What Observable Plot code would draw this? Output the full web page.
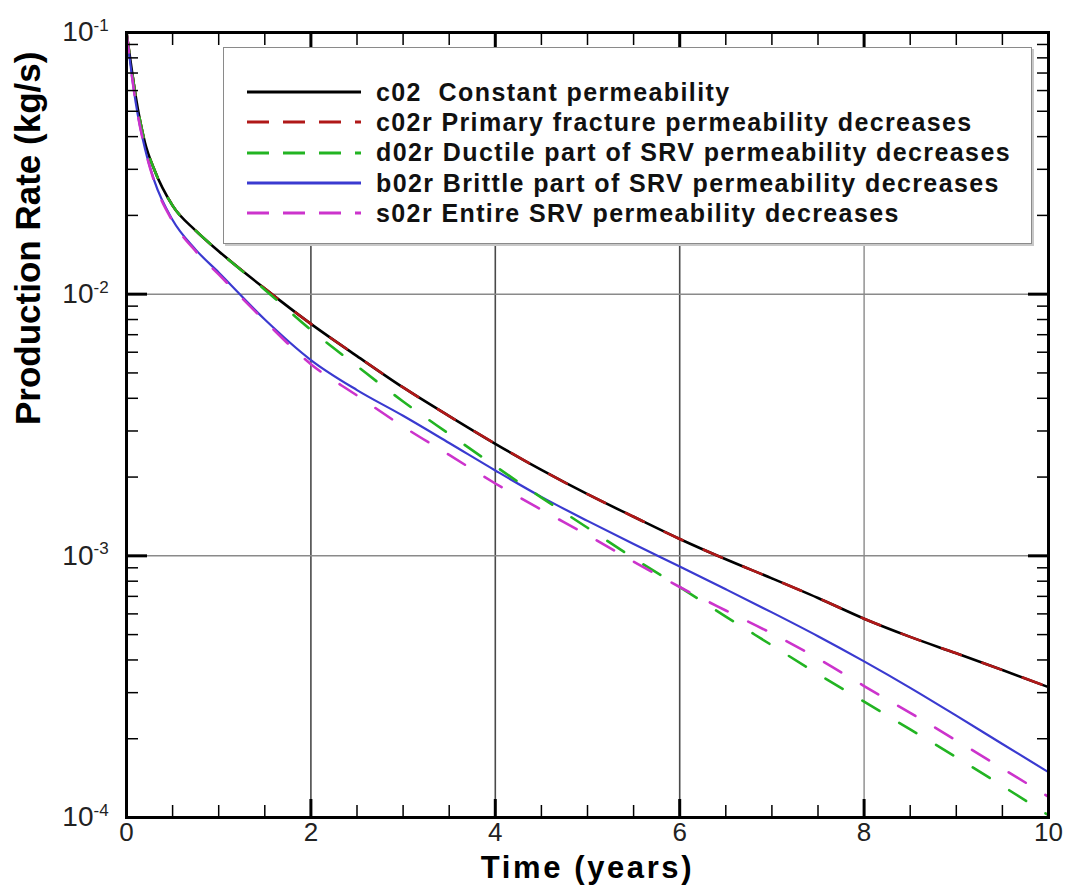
<!DOCTYPE html>
<html>
<head>
<meta charset="utf-8">
<script src="https://cdn.jsdelivr.net/npm/d3@7"></script>
<script src="https://cdn.jsdelivr.net/npm/@observablehq/plot@0.6"></script>
<style>
  html, body { margin: 0; padding: 0; background: #fff; }
  #wrap { position: relative; width: 1069px; height: 891px; font-family: "Liberation Sans", Arial, sans-serif; }
  #legend {
    position: absolute; left: 223px; top: 47px; width: 809px; height: 197px;
    background: #fff; border: 1.5px solid #8a8a8a; box-shadow: 2px 2px 0 #c8c8c8;
    box-sizing: border-box; padding-top: 29px;
  }
  .row { display: flex; align-items: center; height: 30.3px; }
  .row svg { margin-left: 23px; margin-right: 15px; flex: none; }
  .row span { font-family: "Liberation Sans", Arial, sans-serif; font-weight: bold; font-size: 25px; color: #111; white-space: nowrap; letter-spacing: 1.4px; }
</style>
</head>
<body>
<div id="wrap"></div>
<script>
// ---- data ----
const times = [0, 0.05, 0.1, 0.2, 0.3, 0.5, 0.75, 1, 1.5, 2, 2.5, 3, 3.5, 4, 4.5, 5, 5.5, 6, 6.5, 7, 7.5, 8, 8.5, 9, 9.5, 10];
const c02  = [0.1, 0.075, 0.057, 0.038, 0.030, 0.0218, 0.0175, 0.0146, 0.0105, 0.0077, 0.0058, 0.0044, 0.00342, 0.00268, 0.00213, 0.00172, 0.00141, 0.00116, 0.00097, 0.00082, 0.00069, 0.000575, 0.00049, 0.000424, 0.000366, 0.000315];
const c02r = [0.1, 0.075, 0.057, 0.038, 0.030, 0.0218, 0.0175, 0.0146, 0.0105, 0.0077, 0.0058, 0.0044, 0.00342, 0.00268, 0.00213, 0.00172, 0.00141, 0.00116, 0.00097, 0.00082, 0.00069, 0.000575, 0.00049, 0.000424, 0.000366, 0.000315];
const d02r = [0.1, 0.075, 0.057, 0.038, 0.030, 0.0218, 0.0175, 0.0146, 0.0104, 0.0073, 0.00531, 0.00389, 0.00292, 0.0022, 0.00167, 0.00128, 0.00098, 0.00076, 0.000586, 0.000455, 0.000353, 0.000277, 0.000217, 0.00017, 0.000132, 0.000102];
const b02r = [0.1, 0.072, 0.054, 0.036, 0.0272, 0.0192, 0.0148, 0.0121, 0.0080, 0.0056, 0.0043, 0.00343, 0.0027, 0.00212, 0.00168, 0.00136, 0.00111, 0.00091, 0.000745, 0.000608, 0.000493, 0.000395, 0.000313, 0.000245, 0.000191, 0.000149];
const s02r = [0.1, 0.072, 0.054, 0.036, 0.027, 0.019, 0.0146, 0.0119, 0.0079, 0.0054, 0.0041, 0.00312, 0.00243, 0.00189, 0.0015, 0.0012, 0.00095, 0.00076, 0.000618, 0.000505, 0.000405, 0.000318, 0.000251, 0.000197, 0.000154, 0.00012];

const seriesKeys   = ["c02", "b02r", "c02r", "d02r", "s02r"];
const seriesValues = { c02, b02r, c02r, d02r, s02r };
const legendOrder  = ["c02", "c02r", "d02r", "b02r", "s02r"];
const seriesNames  = {
  c02:  "c02\u00a0 Constant permeability",
  c02r: "c02r Primary fracture permeability decreases",
  d02r: "d02r Ductile part of SRV permeability decreases",
  b02r: "b02r Brittle part of SRV permeability decreases",
  s02r: "s02r Entire SRV permeability decreases"
};
const seriesColors = { c02: "#000000", c02r: "#b01818", d02r: "#22b422", b02r: "#3a3ad0", s02r: "#cc33cc" };
const seriesDashed = { c02: false, c02r: true, d02r: true, b02r: false, s02r: true };
const seriesWidth  = { c02: 2.6, c02r: 2.6, d02r: 2.6, b02r: 2.2, s02r: 2.6 };

const xMajorTicks = [2, 4, 6, 8];
const xLabelTicks = [0, 2, 4, 6, 8, 10];
const xMinorTicks = [0.5, 1, 1.5, 2.5, 3, 3.5, 4.5, 5, 5.5, 6.5, 7, 7.5, 8.5, 9, 9.5];
const yDecades    = [1e-4, 1e-3, 1e-2, 1e-1];
const yMantissas  = [2, 3, 4, 5, 6, 7, 8, 9];
const gridXDark   = [2, 4, 6];
const gridXLight  = [8];
const gridY       = [1e-3, 1e-2];
const xTitle = "Time (years)";
const yTitle = "Production Rate (kg/s)";

// ---- build table ----
const rows = seriesKeys.flatMap(k => times.map((t, i) => ({ key: k, t, v: seriesValues[k][i] })));
const yMinor = yDecades.slice(0, 3).flatMap(d => yMantissas.map(m => m * d));

const lineMarks = seriesKeys.map(k => Plot.line(rows.filter(r => r.key === k), {
  x: "t", y: "v", curve: "monotone-x",
  stroke: seriesColors[k], strokeWidth: seriesWidth[k],
  strokeDasharray: seriesDashed[k] ? "20,23" : null
}));

const blank = () => "";
const chart = Plot.plot({
  width: 1069, height: 891,
  marginTop: 32, marginLeft: 126, marginRight: 21, marginBottom: 74,
  style: { fontFamily: "'Liberation Sans', Arial, sans-serif", background: "#fff", color: "#000" },
  x: { domain: [0, 10] },
  y: { type: "log", domain: [1e-4, 1e-1] },
  marks: [
    Plot.ruleX(gridXDark, { stroke: "#4a4a4a", strokeWidth: 1.6 }),
    Plot.ruleX(gridXLight, { stroke: "#8a8a8a", strokeWidth: 1.4 }),
    Plot.ruleY(gridY, { stroke: "#8a8a8a", strokeWidth: 1.5 }),
    ...lineMarks,
    Plot.axisX(xMinorTicks, { anchor: "bottom", tickSize: -12, strokeWidth: 1.5, tickFormat: blank, label: null }),
    Plot.axisX(xMinorTicks, { anchor: "top", tickSize: -12, strokeWidth: 1.5, tickFormat: blank, label: null }),
    Plot.axisX(xMajorTicks, { anchor: "bottom", tickSize: -18, strokeWidth: 3, tickFormat: blank, label: null }),
    Plot.axisX(xMajorTicks, { anchor: "top", tickSize: -18, strokeWidth: 3, tickFormat: blank, label: null }),
    Plot.axisX(xLabelTicks, { anchor: "bottom", tickSize: 0, tickPadding: 5, fontSize: 26, fill: "#222", label: null }),
    Plot.axisY(yMinor, { anchor: "left", tickSize: -12, strokeWidth: 1.5, tickFormat: blank, label: null }),
    Plot.axisY(yMinor, { anchor: "right", tickSize: -12, strokeWidth: 1.5, tickFormat: blank, label: null }),
    Plot.axisY(yDecades, { anchor: "left", tickSize: -21, strokeWidth: 3, tickFormat: blank, label: null }),
    Plot.axisY(yDecades, { anchor: "right", tickSize: -21, strokeWidth: 3, tickFormat: blank, label: null }),
    Plot.text(yDecades, { y: d => d, frameAnchor: "left", text: () => "10", textAnchor: "end", dx: -33, fontSize: 28, fill: "#222" }),
    Plot.text(yDecades, { y: d => d, frameAnchor: "left", text: d => String(Math.round(Math.log10(d))), textAnchor: "start", dx: -33, dy: -7, fontSize: 17, fill: "#222" }),
    Plot.text([xTitle], { frameAnchor: "bottom", dy: 60, fontSize: 31, fontWeight: "bold", fill: "#000", text: d => d }),
    Plot.text([yTitle], { frameAnchor: "left", dx: -98, rotate: -90, fontSize: 35, fontWeight: "bold", fill: "#000", text: d => d }),
    Plot.frame({ stroke: "#000", strokeWidth: 3 })
  ]
});

// widen the x title letter spacing a little, as in the reference
d3.select(chart).selectAll("text").filter(function () { return this.textContent === xTitle; })
  .style("letter-spacing", "2.6px");

const wrap = document.getElementById("wrap");
wrap.appendChild(chart);

// ---- legend (HTML overlay) ----
const legend = document.createElement("div");
legend.id = "legend";
for (const k of legendOrder) {
  const row = document.createElement("div");
  row.className = "row";
  const dash = seriesDashed[k] ? ' stroke-dasharray="22,14"' : "";
  row.innerHTML = `<svg width="114" height="10"><line x1="0" y1="5" x2="114" y2="5" stroke="${seriesColors[k]}" stroke-width="3"${dash}/></svg><span>${seriesNames[k]}</span>`;
  legend.appendChild(row);
}
wrap.appendChild(legend);
</script>
</body>
</html>
